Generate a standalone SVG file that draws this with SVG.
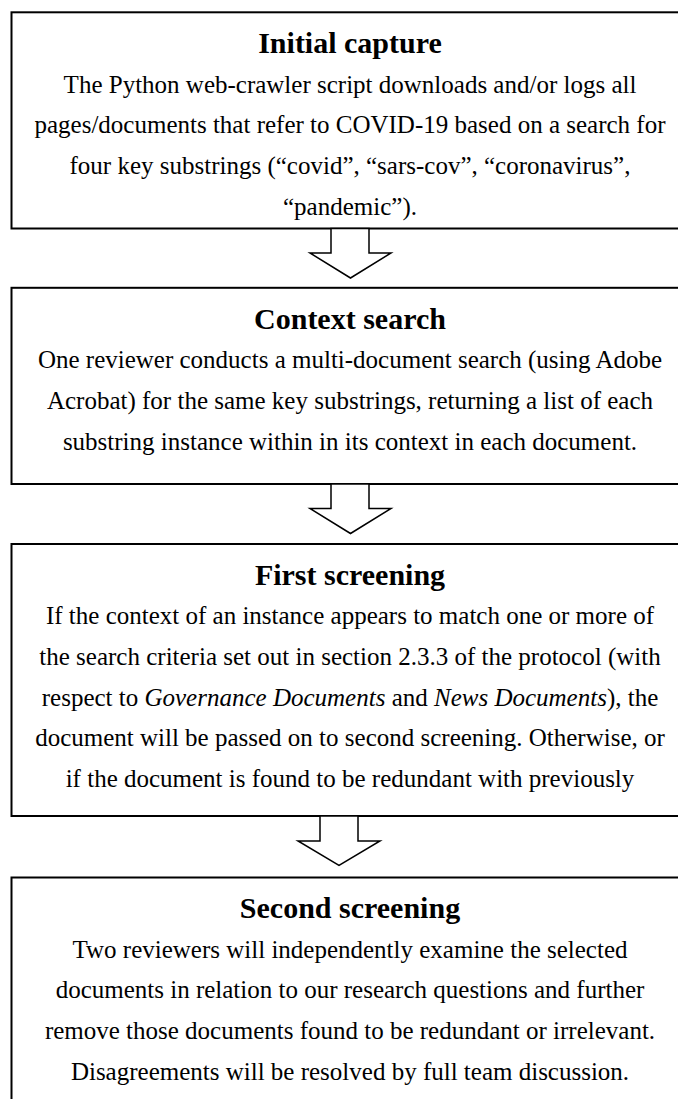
<svg xmlns="http://www.w3.org/2000/svg" width="678" height="1099" viewBox="0 0 678 1099">
<style>
.box{fill:#fff;stroke:#000;stroke-width:2}
.arrow{fill:#fff;stroke:#000;stroke-width:1.5;stroke-linejoin:miter}
.title{font-family:"Liberation Serif","Times New Roman",serif;font-weight:bold;font-size:30px;text-anchor:middle;fill:#000}
.body{font-family:"Liberation Serif","Times New Roman",serif;font-size:25px;text-anchor:middle;fill:#000}
</style>
<rect width="678" height="1099" fill="#fff"/>
<g id="node-initial-capture">
<rect class="box" x="11.5" y="12.3" width="700" height="216.2"/>
<text class="title" x="350" y="53">Initial capture</text>
<text class="body" x="350" y="92.5">The Python web-crawler script downloads and/or logs all</text>
<text class="body" x="350" y="133.3">pages/documents that refer to COVID-19 based on a search for</text>
<text class="body" x="350" y="174.1">four key substrings (“covid”, “sars-cov”, “coronavirus”,</text>
<text class="body" x="350" y="214.9">“pandemic”).</text>
</g>
<g id="node-context-search">
<rect class="box" x="11.5" y="287.8" width="700" height="196.2"/>
<text class="title" x="350" y="328.5">Context search</text>
<text class="body" x="350" y="368">One reviewer conducts a multi-document search (using Adobe</text>
<text class="body" x="350" y="408.8">Acrobat) for the same key substrings, returning a list of each</text>
<text class="body" x="350" y="449.6">substring instance within in its context in each document.</text>
</g>
<g id="node-first-screening">
<rect class="box" x="11.5" y="544" width="700" height="272"/>
<text class="title" x="350" y="584.7">First screening</text>
<text class="body" x="350" y="624">If the context of an instance appears to match one or more of</text>
<text class="body" x="350" y="664.8">the search criteria set out in section 2.3.3 of the protocol (with</text>
<text class="body" x="350" y="705.6">respect to <tspan font-style="italic">Governance Documents</tspan> and <tspan font-style="italic">News Documents</tspan>), the</text>
<text class="body" x="350" y="746.4">document will be passed on to second screening. Otherwise, or</text>
<text class="body" x="350" y="787.2">if the document is found to be redundant with previously</text>
</g>
<g id="node-second-screening">
<rect class="box" x="11.5" y="877.5" width="700" height="260"/>
<text class="title" x="350" y="918.2">Second screening</text>
<text class="body" x="350" y="957.5">Two reviewers will independently examine the selected</text>
<text class="body" x="350" y="998.3">documents in relation to our research questions and further</text>
<text class="body" x="350" y="1039.1">remove those documents found to be redundant or irrelevant.</text>
<text class="body" x="350" y="1079.9">Disagreements will be resolved by full team discussion.</text>
</g>
<g id="connectors">
<polygon class="arrow" points="331,228.5 331,253 310,253 350.5,278 391,253 369,253 369,228.5"/>
<polygon class="arrow" points="331,484 331,508.5 310,508.5 350.5,533.5 391,508.5 369,508.5 369,484"/>
<polygon class="arrow" points="320,816 320,841 298,841 339,865.5 380,841 358,841 358,816"/>
</g>
</svg>
